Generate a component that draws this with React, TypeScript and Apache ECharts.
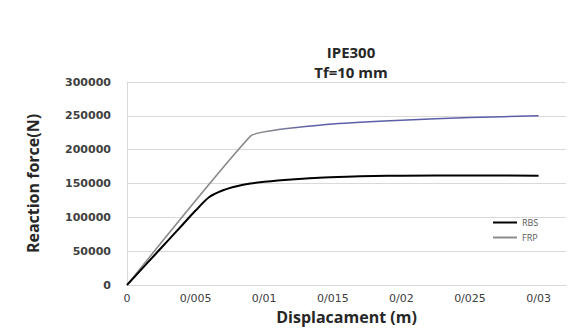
import React, { useEffect, useRef } from "react";
import * as echarts from "echarts";

const rbsX = [0, 0.001, 0.002, 0.003, 0.004, 0.005, 0.006, 0.007, 0.008, 0.009, 0.01, 0.011, 0.012, 0.014, 0.016, 0.018, 0.02, 0.025, 0.03];
const rbsY = [0, 22000, 44000, 66000, 88000, 110000, 130000, 140000, 146000, 150000, 152500, 154500, 156000, 158500, 160000, 161000, 161500, 162000, 161500];
const frpX = [0, 0.009, 0.0105, 0.012, 0.015, 0.02, 0.025, 0.03];
const frpY = [0, 220000, 228000, 232000, 238000, 243500, 247500, 250000];
const seriesNames = ["RBS", "FRP"];
const titleText = "IPE300\nTf=10 mm";
const xName = "Displacament (m)";
const yName = "Reaction force(N)";

const fmtX = (v: number) =>
  v === 0 ? "0" : v.toFixed(3).replace(/0+$/, "").replace(".", "/");

export default function App() {
  const ref = useRef<HTMLDivElement>(null);
  useEffect(() => {
    if (!ref.current) return;
    const chart = echarts.init(ref.current, null, { renderer: "svg" });
    const font = "'Open Sans', 'DejaVu Sans', sans-serif";
    const wide = "'DejaVu Sans', sans-serif";
    chart.setOption({
      animation: false,
      backgroundColor: "#ffffff",
      textStyle: { fontFamily: font },
      title: {
        text: titleText,
        left: 346,
        textAlign: "center",
        top: 37,
        textStyle: { fontSize: 15, fontWeight: "bold", color: "#262626", lineHeight: 20, fontFamily: font },
      },
      grid: { left: 127, right: 13, top: 82, bottom: 41 },
      legend: {
        orient: "vertical",
        left: 488,
        top: 213,
        itemWidth: 24,
        itemHeight: 2,
        itemGap: 6,
        icon: "rect",
        textStyle: { fontSize: 9, color: "#595959", fontFamily: font },
        data: [
          { name: seriesNames[0], itemStyle: { color: "#000000" } },
          { name: seriesNames[1], itemStyle: { color: "#8c8c8c" } },
        ],
      },
      xAxis: {
        type: "value",
        min: 0,
        max: 0.032,
        interval: 0.005,
        name: xName,
        nameLocation: "middle",
        nameGap: 24,
        nameTextStyle: { fontSize: 16, fontWeight: "bold", color: "#262626", fontFamily: font },
        axisLine: { show: true, lineStyle: { color: "#d9d9d9" } },
        axisTick: { show: false },
        splitLine: { show: false },
        axisLabel: {
          showMaxLabel: false,
          fontSize: 11,
          color: "#404040",
          margin: 8,
          fontFamily: wide,
          formatter: fmtX,
        },
      },
      yAxis: {
        type: "value",
        min: 0,
        max: 300000,
        interval: 50000,
        name: yName,
        nameLocation: "middle",
        nameGap: 86,
        nameTextStyle: { fontSize: 16, fontWeight: "bold", color: "#262626", fontFamily: font },
        axisLine: { show: true, lineStyle: { color: "#d9d9d9" } },
        axisTick: { show: false },
        splitLine: { show: true, lineStyle: { color: "#d9d9d9" } },
        axisLabel: {
          fontSize: 11,
          fontWeight: "bold",
          color: "#404040",
          margin: 16,
          fontFamily: wide,
          formatter: (v: number) => String(v),
        },
      },
      series: [
        {
          name: seriesNames[0],
          type: "line",
          data: rbsX.map((x, i) => [x, rbsY[i]]),
          showSymbol: false,
          smooth: 0.3,
          lineStyle: { color: "#000000", width: 2 },
          itemStyle: { color: "#000000" },
          z: 3,
        },
        {
          name: seriesNames[1],
          type: "line",
          data: frpX.map((x, i) => [x, frpY[i]]),
          showSymbol: false,
          smooth: 0.2,
          lineStyle: {
            width: 1.5,
            color: new echarts.graphic.LinearGradient(0, 0, 1, 0, [
              { offset: 0, color: "#8c8c8c" },
              { offset: 0.33, color: "#8c8c8c" },
              { offset: 0.45, color: "#5a5fa8" },
              { offset: 1, color: "#5a5fa8" },
            ]),
          },
          itemStyle: { color: "#8c8c8c" },
          z: 2,
        },
      ],
    });
    return () => chart.dispose();
  }, []);
  return <div ref={ref} style={{ width: 579, height: 330, position: "absolute", left: 0, top: 0 }} />;
}
